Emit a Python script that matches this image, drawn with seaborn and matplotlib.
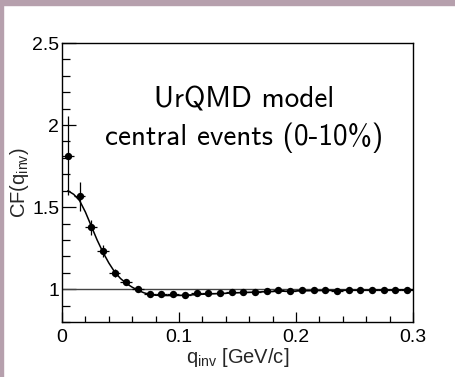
import numpy as np
import pandas as pd
import matplotlib
matplotlib.use("Agg")
import matplotlib.pyplot as plt
from matplotlib.ticker import MultipleLocator, FuncFormatter
from matplotlib.patches import Rectangle
import seaborn as sns

# ---- data ----
q_inv = [0.005, 0.015, 0.025, 0.035, 0.045, 0.055, 0.065, 0.075, 0.085, 0.095,
         0.105, 0.115, 0.125, 0.135, 0.145, 0.155, 0.165, 0.175, 0.185, 0.195,
         0.205, 0.215, 0.225, 0.235, 0.245, 0.255, 0.265, 0.275, 0.285, 0.295]
cf = [1.814, 1.565, 1.377, 1.232, 1.100, 1.046, 1.004, 0.972, 0.968, 0.972,
      0.964, 0.976, 0.978, 0.976, 0.984, 0.984, 0.982, 0.990, 0.992, 0.990,
      0.994, 0.994, 0.994, 0.990, 0.996, 0.998, 0.994, 0.998, 0.996, 0.996]
cf_err = [0.24, 0.09, 0.045, 0.035, 0.025, 0.015, 0.01, 0.008, 0.008, 0.008,
          0.008, 0.008, 0.008, 0.008, 0.008, 0.008, 0.008, 0.008, 0.008, 0.008,
          0.008, 0.008, 0.008, 0.008, 0.008, 0.008, 0.008, 0.008, 0.008, 0.008]
q_err = [0.005] * 30

fit_q = [0.005, 0.01, 0.015, 0.02, 0.025, 0.03, 0.035, 0.04, 0.045, 0.05,
         0.055, 0.06, 0.065, 0.07, 0.075, 0.08, 0.09, 0.10, 0.11, 0.12,
         0.14, 0.16, 0.18, 0.20, 0.22, 0.25, 0.30]
fit_cf = [1.600, 1.578, 1.540, 1.470, 1.385, 1.300, 1.225, 1.160, 1.105, 1.065,
          1.035, 1.012, 0.993, 0.978, 0.968, 0.963, 0.961, 0.962, 0.965, 0.969,
          0.975, 0.981, 0.986, 0.989, 0.992, 0.994, 0.997]

label_lines = ["UrQMD model", "central events (0-10%)"]

df = pd.DataFrame({"q": q_inv, "cf": cf})
fit_df = pd.DataFrame({"q": fit_q, "cf": fit_cf})

sns.set_theme(style="white")
plt.rcParams["font.family"] = ["Liberation Sans", "DejaVu Sans"]
plt.rcParams["mathtext.fontset"] = "custom"
plt.rcParams["mathtext.rm"] = "Liberation Sans"
plt.rcParams["mathtext.it"] = "Liberation Sans"

fig = plt.figure(figsize=(4.56, 3.77), dpi=100, facecolor="white")
ax = fig.add_axes([62 / 456, 1 - 322 / 377, 351 / 456, 279 / 377])
ax.set_facecolor("white")

border = "#b6a0ad"
fig.patches.append(Rectangle((0, 1 - 4.5 / 377), 1, 4.5 / 377, transform=fig.transFigure,
                             color=border, zorder=0))
fig.patches.append(Rectangle((0, 0), 3 / 456, 1, transform=fig.transFigure,
                             color=border, zorder=0))

ax.axhline(1.0, color="#444444", lw=1.0, zorder=1)
sns.lineplot(data=fit_df, x="q", y="cf", ax=ax, color="black", lw=1.1, zorder=2)
ax.errorbar(q_inv, cf, yerr=cf_err, xerr=q_err, fmt="none", ecolor="black",
            elinewidth=0.9, capsize=0, zorder=3)
sns.scatterplot(data=df, x="q", y="cf", ax=ax, color="black", s=28,
                edgecolor="black", linewidth=0, zorder=4)

ax.set_xlim(0, 0.3)
ax.set_ylim(0.8, 2.5)
ax.xaxis.set_major_locator(MultipleLocator(0.1))
ax.xaxis.set_minor_locator(MultipleLocator(0.02))
ax.yaxis.set_major_locator(MultipleLocator(0.5))
ax.yaxis.set_minor_locator(MultipleLocator(0.1))
fmt = FuncFormatter(lambda v, p: "%g" % round(v, 3))
ax.xaxis.set_major_formatter(fmt)
ax.yaxis.set_major_formatter(fmt)
ax.tick_params(axis="both", which="both", direction="in", colors="black",
               labelsize=14, top=False, right=False, bottom=True, left=True)
ax.tick_params(axis="x", which="major", length=7, width=0.9, pad=5)
ax.tick_params(axis="x", which="minor", length=4, width=0.9)
ax.tick_params(axis="y", which="major", length=10, width=0.9, pad=2)
ax.tick_params(axis="y", which="minor", length=5.5, width=0.9)
for s in ax.spines.values():
    s.set_visible(True)
    s.set_color("black")
    s.set_linewidth(1.0)

ax.set_xlabel(r"q$_{\mathregular{inv}}$ [GeV/c]", fontsize=14.5, labelpad=0)
ax.set_ylabel(r"CF(q$_{\mathregular{inv}}$)", fontsize=14.5, labelpad=1)

ax.text(0.52, 0.795, label_lines[0], transform=ax.transAxes, ha="center", va="center",
        fontsize=21, family=["cmss10", "DejaVu Sans"], color="black")
ax.text(0.52, 0.66, label_lines[1], transform=ax.transAxes, ha="center", va="center",
        fontsize=21, family=["cmss10", "DejaVu Sans"], color="black")

fig.savefig("out.png", dpi=100, facecolor="white")
